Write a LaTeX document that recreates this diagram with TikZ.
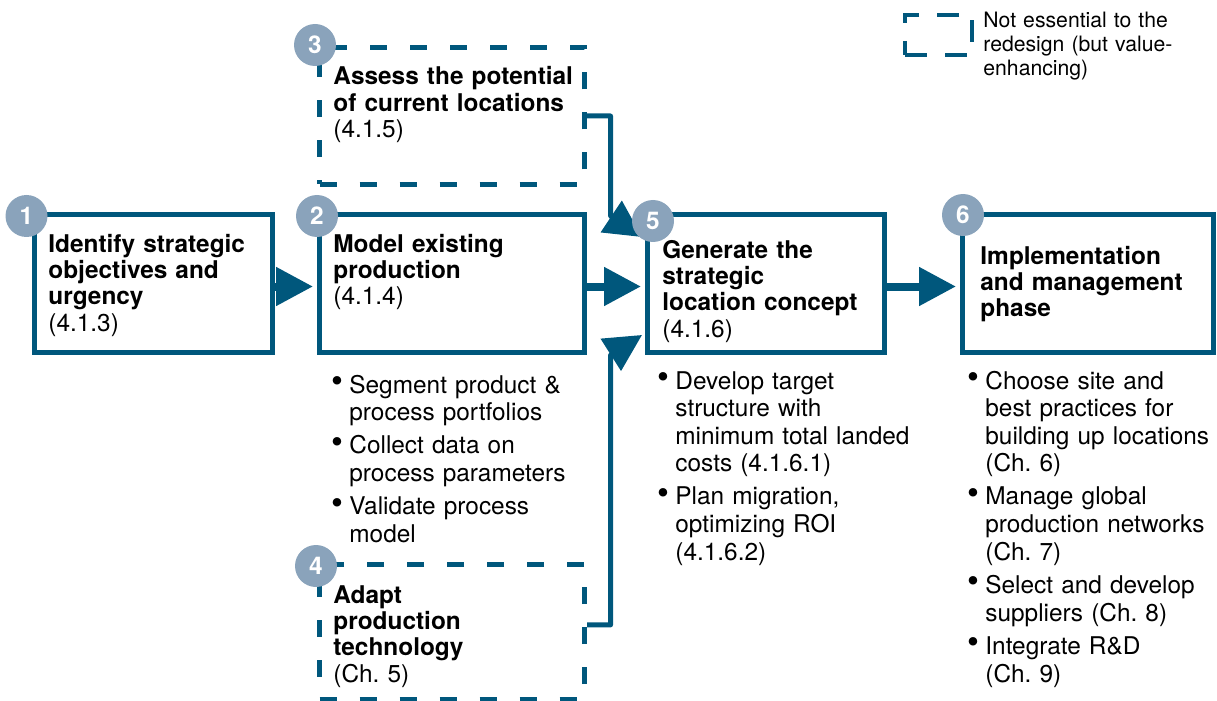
\documentclass[tikz,border=0pt]{standalone}
\usepackage{fontspec}
\setmainfont{TeX Gyre Heros}
\usetikzlibrary{arrows.meta}
\definecolor{petrol}{RGB}{0,87,124}
\definecolor{stepgray}{RGB}{138,163,187}
\newcommand{\itm}{\makebox[8pt][l]{\hspace*{-1pt}\raisebox{0.3pt}{\fontsize{17}{13}\selectfont\textbullet}}}
\newcommand{\ind}{\hspace*{8pt}}

\begin{document}
\begin{tikzpicture}[x=0.5pt, y=-0.5pt, font=\fontsize{12.2}{13.2}\selectfont,
	box/.style={draw=petrol, line width=2.5pt, minimum height=68.5pt, inner sep=0pt},
	optbox/.style={box, dash pattern=on 8.5pt off 11.5pt},
	num/.style={circle, fill=stepgray, minimum size=21pt, inner sep=0pt, text=white, font=\fontsize{12.2}{13.2}\selectfont\bfseries},
	txt/.style={anchor=base west, inner sep=0pt, text width=128pt, align=left},
	bul/.style={txt, font=\fontsize{12.2}{13.75}\selectfont},
	flow/.style={petrol, line width=4pt, -{Triangle[length=18.5pt,width=18.5pt]}, shorten >=2pt},
	link/.style={petrol, line width=2.5pt, line join=round, -{Triangle[length=18.5pt,width=18.5pt]}}]
	\useasboundingbox (0,0) rectangle (1217,701);
	% phase boxes
	\node[box, minimum width=118.75pt] (b1) at (153.25,283.5) {};
	\node[box, minimum width=132.5pt] (b2) at (452,283.5) {};
	\node[optbox, minimum width=132.5pt] (b3) at (452,116) {};
	\node[optbox, minimum width=132.5pt, minimum height=67.25pt] (b4) at (452,631.75) {};
	\node[box, minimum width=118.5pt] (b5) at (766,283.5) {};
	\node[box, minimum width=125.5pt] (b6) at (1088,283.5) {};
	\node[txt] (t1) at (48,252) {\textbf{Identify strategic\\objectives and\\urgency}\\(4.1.3)};
	\node[txt] (t2) at (333,252) {\textbf{Model existing\\production}\\(4.1.4)};
	\node[txt] (t3) at (333,85) {\textbf{Assess the potential\\of current locations}\\(4.1.5)};
	\node[txt] (t4) at (333,603) {\textbf{Adapt\\production\\technology}\\(Ch.\ 5)};
	\node[txt] (t5) at (662,258) {\textbf{Generate the\\strategic\\location concept}\\(4.1.6)};
	\node[txt] (t6) at (980,264) {\textbf{Implementation\\and management\\phase}};
	% activities under the boxes
	\node[bul] (l2) at (333,393) {\itm Segment product \&\\\ind process portfolios\\[3pt]\itm Collect data on\\\ind process parameters\\[3pt]\itm Validate process\\\ind model};
	\node[bul] (l5) at (659,389) {\itm Develop target\\\ind structure with\\\ind minimum total landed\\\ind costs (4.1.6.1)\\[3pt]\itm Plan migration,\\\ind optimizing ROI\\\ind (4.1.6.2)};
	\node[bul] (l6) at (969,389) {\itm Choose site and\\\ind best practices for\\\ind building up locations\\\ind (Ch.\ 6)\\[3pt]\itm Manage global\\\ind production networks\\\ind (Ch.\ 7)\\[3pt]\itm Select and develop\\\ind suppliers (Ch.\ 8)\\[3pt]\itm Integrate R\&D\\\ind (Ch.\ 9)};
	% connectors
	\coordinate (k3) at (610.5,216);
	\coordinate (k4) at (610.5,355);
	\coordinate (in3) at (642,237);
	\coordinate (in4) at (642,335);
	\draw[flow] ([yshift=-1.5pt]b1.east) -- ([yshift=-1.5pt]b2.west);
	\draw[flow] ([yshift=-1.5pt]b2.east) -- ([yshift=-1.5pt]b5.west);
	\draw[flow] ([yshift=-1.5pt]b5.east) -- ([yshift=-1.5pt]b6.west);
	\draw[link] (b3.east) -| (k3) -- (in3);
	\draw[link] ([yshift=3.4pt]b4.east) -| (k4) -- (in4);
	% step numbers
	\node[num] (n1) at (26.5,216) {1};
	\node[num] (n2) at (317,216) {2};
	\node[num] (n3) at (315,45) {3};
	\node[num] (n4) at (316,566) {4};
	\node[num] (n5) at (653,221) {5};
	\node[num] (n6) at (963,215) {6};
	% legend
	\node[draw=petrol, line width=2pt, dash pattern=on 11pt off 9pt, minimum width=33.5pt, minimum height=20pt, inner sep=0pt] (key) at (938.5,35) {};
	\node[txt, font=\fontsize{10.6}{12}\selectfont] (keytxt) at (983,28) {Not essential to the\\redesign (but value-\\enhancing)};
\end{tikzpicture}
\end{document}
